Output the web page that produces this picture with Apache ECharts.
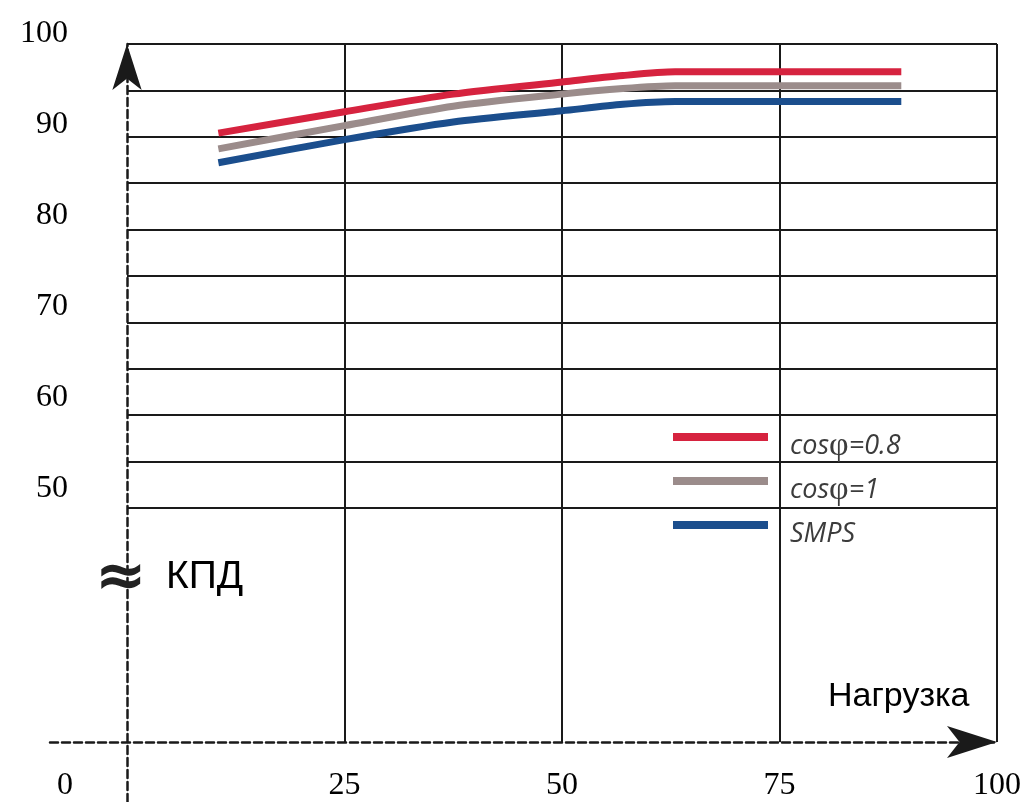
<!DOCTYPE html>
<html><head><meta charset="utf-8">
<script src="https://cdn.jsdelivr.net/npm/echarts@6/dist/echarts.min.js"></script>
<style>html,body{margin:0;padding:0;background:#fff}#c{width:1024px;height:802px}</style>
</head><body><div id="c"></div>
<script>
// ---- data ----
const load = [10.5, 25, 37.5, 50, 57, 63, 89];
const effCos08 = [90.4, 92.7, 94.6, 95.9, 96.6, 97.0, 97.0];
const effCos1  = [88.7, 91.2, 93.3, 94.6, 95.2, 95.5, 95.5];
const effSMPS  = [87.2, 89.7, 91.6, 92.8, 93.5, 93.8, 93.8];
const seriesNames = ['cosφ=0.8', 'cosφ=1', 'SMPS'];
const seriesColors = ['#d6233f', '#9b8c8b', '#1b4e8d'];
const yTickLabels = [50, 60, 70, 80, 90, 100];
const xTickLabels = [0, 25, 50, 75, 100];
const yGridStep = 5;
const yTitle = 'КПД';
const xTitle = 'Нагрузка';

const yMin = yTickLabels[0], yMax = yTickLabels[yTickLabels.length - 1];
const yLabelStep = yTickLabels[1] - yTickLabels[0];
const xMin = xTickLabels[0], xMax = xTickLabels[xTickLabels.length - 1];
const xStep = xTickLabels[1] - xTickLabels[0];

const serif = "'Liberation Serif', 'DejaVu Serif', serif";
const sans = "'Liberation Sans', Arial, sans-serif";
const dashed = { type: [8, 4], width: 2.5, color: '#1a1a1a' };
const gridLine = { color: '#1a1a1a', width: 2 };

const chart = echarts.init(document.getElementById('c'), null, { renderer: 'canvas' });
const values = [effCos08, effCos1, effSMPS];

chart.setOption({
  backgroundColor: '#fff',
  animation: false,
  grid: [
    { left: 127, right: 27, top: 44, bottom: 294 },   // plot
    { left: 127, right: 27, top: 44, bottom: 60 },    // verticals + x labels
    { left: 127, right: 27, top: 33.5, bottom: 313 }, // y labels
    { left: 50, right: 27, top: 700, bottom: 60 },    // x arrow axis
    { left: 127, right: 27, top: 44, bottom: 0 }      // y arrow axis
  ],
  xAxis: [
    { gridIndex: 0, type: 'value', min: xMin, max: xMax, show: false },
    { gridIndex: 1, type: 'value', min: xMin, max: xMax, interval: xStep,
      axisLine: { show: false }, axisTick: { show: false },
      splitLine: { show: true, showMinLine: false, showMaxLine: true, lineStyle: gridLine },
      axisLabel: {
        margin: 28, fontSize: 32, fontFamily: serif, color: '#000',
        showMinLabel: true, showMaxLabel: true,
        formatter: v => v === xMin ? '{z|' + v + '}' : String(v),
        rich: { z: { fontSize: 32, fontFamily: serif, color: '#000', padding: [0, 124, 0, 0] } }
      } },
    { gridIndex: 2, type: 'value', show: false },
    { gridIndex: 3, type: 'value', position: 'bottom',
      axisLine: { show: true, onZero: false, symbol: ['none', 'arrow'], symbolSize: [24, 50], lineStyle: dashed },
      axisTick: { show: false }, axisLabel: { show: false }, splitLine: { show: false } },
    { gridIndex: 4, type: 'value', show: false }
  ],
  yAxis: [
    { gridIndex: 0, type: 'value', min: yMin, max: yMax, interval: yGridStep,
      axisLine: { show: false }, axisTick: { show: false }, axisLabel: { show: false },
      splitLine: { show: true, showMinLine: true, showMaxLine: true, lineStyle: gridLine } },
    { gridIndex: 1, type: 'value', show: false },
    { gridIndex: 2, type: 'value', min: yMin, max: yMax, interval: yLabelStep,
      axisLine: { show: false }, axisTick: { show: false }, splitLine: { show: false },
      axisLabel: { margin: 59, fontSize: 32, fontFamily: serif, color: '#000', showMinLabel: true, showMaxLabel: true } },
    { gridIndex: 3, type: 'value', show: false },
    { gridIndex: 4, type: 'value',
      axisLine: { show: true, onZero: false, symbol: ['none', 'arrow'], symbolSize: [22, 46], lineStyle: dashed },
      axisTick: { show: false }, axisLabel: { show: false }, splitLine: { show: false } }
  ],
  legend: {
    orient: 'vertical', left: 668, top: 410,
    itemWidth: 95, itemHeight: 8, itemGap: -4, icon: 'rect',
    data: seriesNames,
    formatter: n => n.replace('φ', '{p|φ}'),
    textStyle: {
      fontSize: 27, lineHeight: 26, fontStyle: 'italic', fontFamily: "'Open Sans', 'DejaVu Sans', sans-serif",
      color: '#3c3c3c', padding: [18, 0, 0, 17],
      rich: { p: { fontSize: 34, lineHeight: 26, fontStyle: 'normal', fontFamily: serif, color: '#3c3c3c' } }
    }
  },
  graphic: [
    { type: 'text', x: 121, y: 580, z: 100,
      style: { text: '≈', fontSize: 62, fontWeight: 'bold', fontFamily: "'DejaVu Sans', sans-serif", fill: '#222', align: 'center', verticalAlign: 'middle' } },
    { type: 'text', x: 166, y: 577, z: 100,
      style: { text: yTitle, fontSize: 39, fontFamily: sans, fill: '#000', align: 'left', verticalAlign: 'middle' } },
    { type: 'text', x: 828, y: 697, z: 100,
      style: { text: xTitle, fontSize: 34, fontFamily: sans, fill: '#000', align: 'left', verticalAlign: 'middle' } }
  ],
  series: seriesNames.map((name, k) => ({
    name, type: 'line', xAxisIndex: 0, yAxisIndex: 0,
    data: load.map((x, i) => [x, values[k][i]]),
    showSymbol: false, symbol: 'none', smooth: 0.25,
    color: seriesColors[k],
    lineStyle: { width: 7, color: seriesColors[k] },
    z: 10 - k
  }))
});
</script>
</body></html>
